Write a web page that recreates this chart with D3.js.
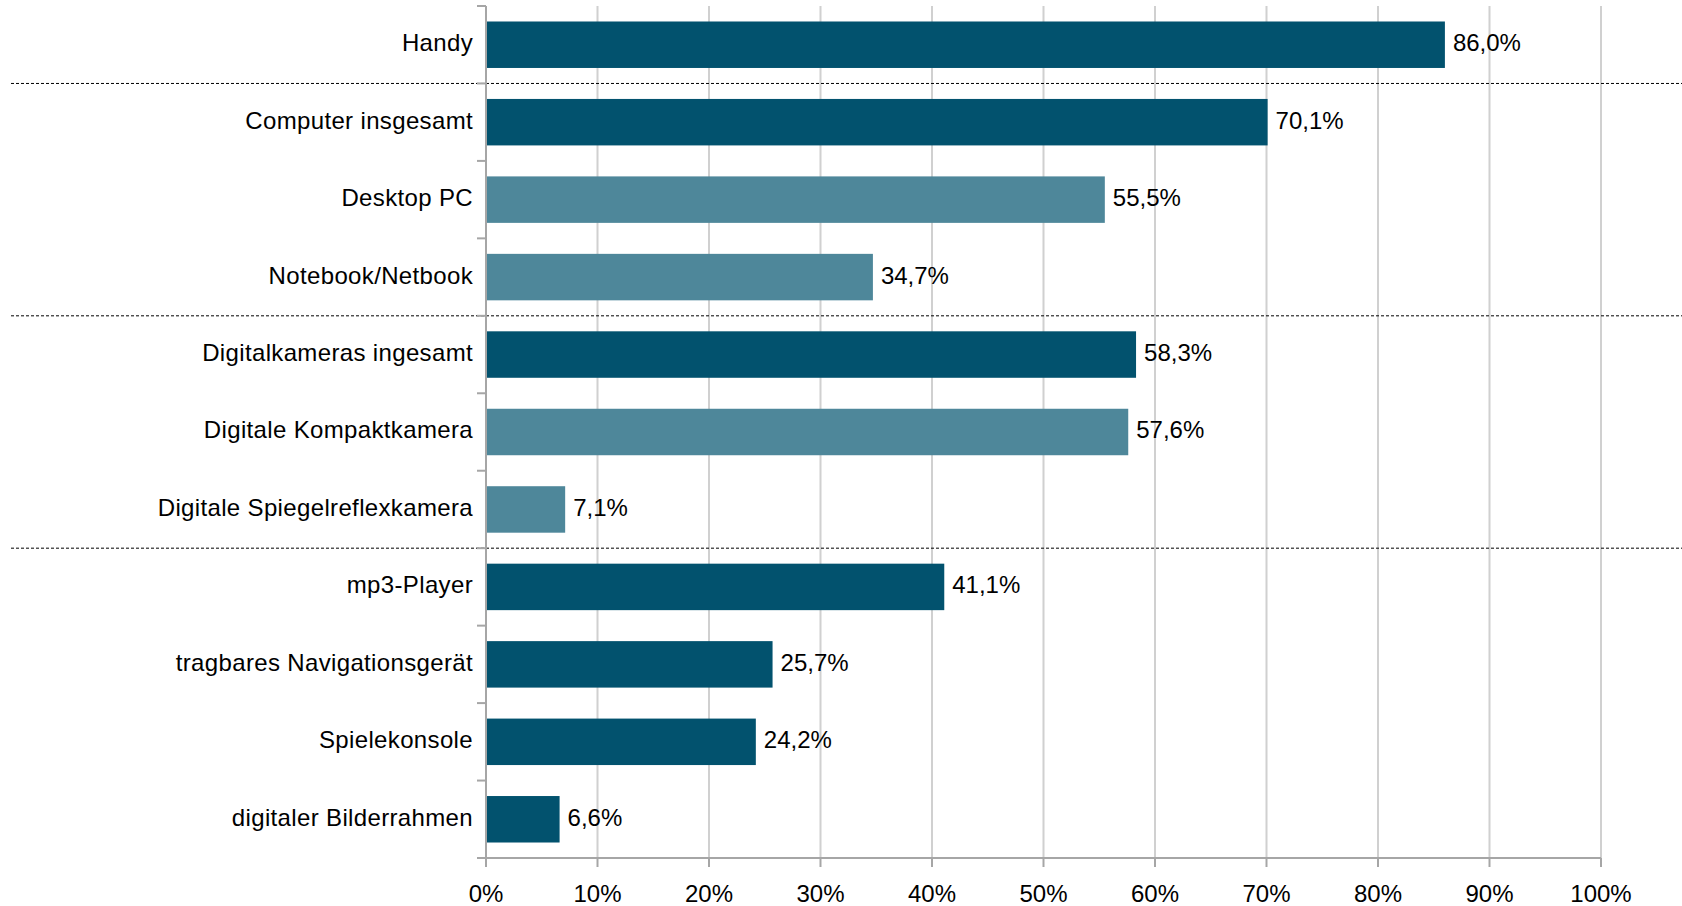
<!DOCTYPE html>
<html>
<head>
<meta charset="utf-8">
<script src="https://cdn.jsdelivr.net/npm/d3@7"></script>
<style>
  html, body { margin: 0; padding: 0; background: #fff; }
  svg { display: block; }
  text { font-family: "Liberation Sans", Arial, sans-serif; fill: #000; }
</style>
</head>
<body>
<svg id="chart" width="1682" height="906"></svg>
<script>
const categories = [
  "Handy",
  "Computer insgesamt",
  "Desktop PC",
  "Notebook/Netbook",
  "Digitalkameras ingesamt",
  "Digitale Kompaktkamera",
  "Digitale Spiegelreflexkamera",
  "mp3-Player",
  "tragbares Navigationsgerät",
  "Spielekonsole",
  "digitaler Bilderrahmen"
];
const values = [86.0, 70.1, 55.5, 34.7, 58.3, 57.6, 7.1, 41.1, 25.7, 24.2, 6.6];
const isSubItem = [false, false, true, true, false, true, true, false, false, false, false];
const groupEndsAfter = [0, 3, 6];
const xTicks = [0, 10, 20, 30, 40, 50, 60, 70, 80, 90, 100];

(function () {
  const svg = d3.select("#chart");
  const W = 1682;
  const pLeft = 486, pRight = 1601, pTop = 6, pBottom = 858;

  const x = d3.scaleLinear().domain([0, 100]).range([pLeft, pRight]);
  const y = d3.scaleBand().domain(categories).range([pTop, pBottom])
    .paddingInner(0.4).paddingOuter(0.2);
  const step = y.step();
  const boundary = k => pTop + k * step;

  // gridlines
  svg.append("g").selectAll("line").data(xTicks.slice(1)).join("line")
    .attr("x1", d => x(d)).attr("x2", d => x(d))
    .attr("y1", pTop).attr("y2", pBottom)
    .attr("stroke", "#d0d0d0").attr("stroke-width", 2);

  // bars
  const dark = "#02526e", light = "#4e879a";
  svg.append("g").selectAll("rect").data(categories).join("rect")
    .attr("x", x(0))
    .attr("y", d => y(d))
    .attr("width", (d, i) => x(values[i]) - x(0))
    .attr("height", y.bandwidth())
    .attr("fill", (d, i) => isSubItem[i] ? light : dark);

  // value labels
  const fmt = v => v.toFixed(1).replace(".", ",") + "%";
  svg.append("g").selectAll("text").data(categories).join("text")
    .attr("x", (d, i) => x(values[i]) + 8)
    .attr("y", d => y(d) + y.bandwidth() / 2)
    .attr("dy", "0.27em")
    .attr("font-size", 24)
    .text((d, i) => fmt(values[i]));

  // dashed separators
  svg.append("g").selectAll("line").data(groupEndsAfter).join("line")
    .attr("x1", 11).attr("x2", W)
    .attr("y1", d => boundary(d + 1)).attr("y2", d => boundary(d + 1))
    .attr("stroke", "#000").attr("stroke-width", 1)
    .attr("stroke-dasharray", "3,2");

  // y axis line and ticks
  const axisColor = "#a6a6a6";
  svg.append("line")
    .attr("x1", pLeft).attr("x2", pLeft).attr("y1", pTop).attr("y2", pBottom + 8)
    .attr("stroke", axisColor).attr("stroke-width", 2);
  svg.append("g").selectAll("line").data(d3.range(categories.length + 1)).join("line")
    .attr("x1", pLeft - 9).attr("x2", pLeft)
    .attr("y1", k => boundary(k)).attr("y2", k => boundary(k))
    .attr("stroke", axisColor).attr("stroke-width", 2);

  // category labels
  svg.append("g").selectAll("text").data(categories).join("text")
    .attr("x", pLeft - 13)
    .attr("y", d => y(d) + y.bandwidth() / 2)
    .attr("dy", "0.27em")
    .attr("text-anchor", "end")
    .attr("font-size", 24)
    .attr("letter-spacing", "0.35px")
    .text(d => d);

  // x axis
  svg.append("line")
    .attr("x1", pLeft - 9).attr("x2", pRight).attr("y1", pBottom).attr("y2", pBottom)
    .attr("stroke", axisColor).attr("stroke-width", 2);
  svg.append("g").selectAll("line").data(xTicks).join("line")
    .attr("x1", d => x(d)).attr("x2", d => x(d))
    .attr("y1", pBottom).attr("y2", pBottom + 9)
    .attr("stroke", axisColor).attr("stroke-width", 2);
  svg.append("g").selectAll("text").data(xTicks).join("text")
    .attr("x", d => x(d))
    .attr("y", 902)
    .attr("text-anchor", "middle")
    .attr("font-size", 24)
    .text(d => d + "%");
})();
</script>
</body>
</html>
